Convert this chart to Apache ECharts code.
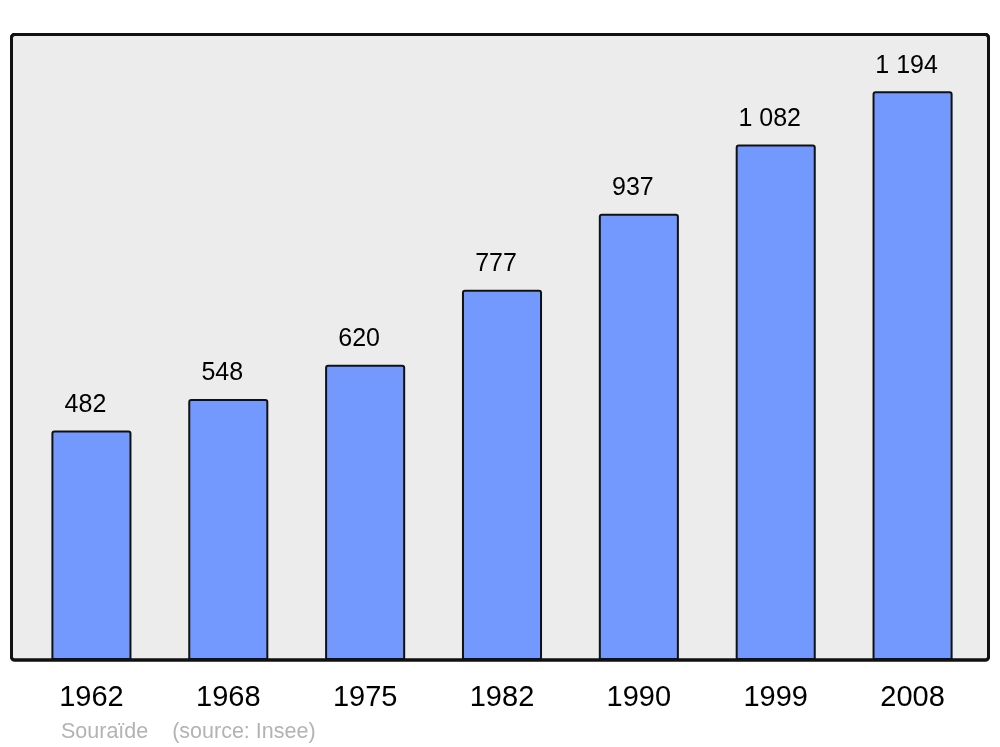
<!DOCTYPE html>
<html><head><meta charset="utf-8">
<script src="https://cdn.jsdelivr.net/npm/echarts@6/dist/echarts.min.js"></script>
<style>html,body{margin:0;padding:0;background:#fff}#c{width:1000px;height:747px}</style>
</head><body><div id="c"></div>
<script>
const years = ['1962','1968','1975','1982','1990','1999','2008'];
const population = [482, 548, 620, 777, 937, 1082, 1194];
const sourceText = 'Souraïde    (source: Insee)';

const fmt = v => String(v).replace(/\B(?=(\d{3})+(?!\d))/g, ' ');
const chart = echarts.init(document.getElementById('c'), null, {renderer: 'canvas'});
chart.setOption({
  animation: false,
  backgroundColor: '#ffffff',
  textStyle: {fontFamily: 'Liberation Sans, Arial, sans-serif'},
  graphic: [
    {type: 'rect', z: -1, shape: {x: 11.5, y: 34.5, width: 977, height: 625.5, r: 3},
     style: {fill: '#ececec', stroke: '#111111', lineWidth: 3}},
    {type: 'rect', z: 10, silent: true, shape: {x: 11.5, y: 34.5, width: 977, height: 625.5, r: 3},
     style: {fill: 'none', stroke: '#111111', lineWidth: 3}},
    {type: 'text', left: 61, top: 721,
     style: {text: sourceText, fill: '#b3b3b3', fontSize: 21.5, fontFamily: 'Liberation Sans, Arial, sans-serif'}}
  ],
  grid: {left: 23, right: 19, top: 35, bottom: 87, containLabel: false},
  xAxis: {
    type: 'category', data: years,
    axisLine: {show: false}, axisTick: {show: false},
    axisLabel: {color: '#000', fontSize: 29, margin: 23, offset: [-1, 0]}
  },
  yAxis: {
    type: 'value', min: 0, max: 1312,
    show: false, splitLine: {show: false}
  },
  series: [{
    type: 'bar', data: population, barWidth: '58.5%',
    itemStyle: {color: '#7399ff', borderColor: '#111', borderWidth: 2, borderRadius: [2, 2, 0, 0]},
    label: {show: true, position: 'top', distance: 13, offset: [-6, 0], color: '#000', fontSize: 25,
      formatter: p => fmt(p.value)}
  }]
});
</script></body></html>
